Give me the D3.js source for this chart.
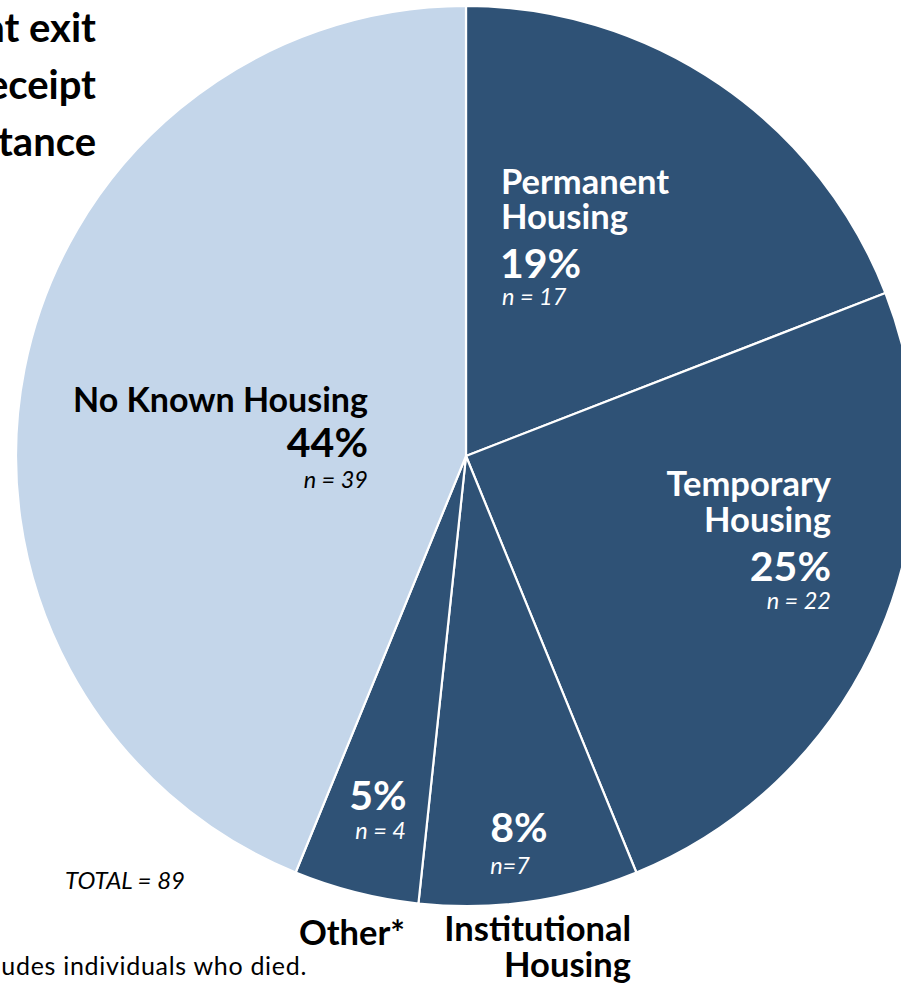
<!DOCTYPE html>
<html>
<head>
<meta charset="utf-8">
<script src="https://cdn.jsdelivr.net/npm/d3@7/dist/d3.min.js"></script>
<style>
  html, body { margin: 0; padding: 0; background: #fff; }
  svg { display: block; }
  text { font-family: Lato, "Open Sans", sans-serif; }
</style>
</head>
<body>
<div id="chart"></div>
<script>
// ---- data ----
const categories = ["Permanent Housing", "Temporary Housing", "Institutional Housing", "Other*", "No Known Housing"];
const counts = [17, 22, 7, 4, 39];
const percents = ["19%", "25%", "8%", "5%", "44%"];
const nLabels = ["n = 17", "n = 22", "n=7", "n = 4", "n = 39"];
const totalLabel = "TOTAL = 89";
const titleLines = ["Housing status at exit", "following receipt", "of assistance"];
const footnote = "*Other includes individuals who died.";

// ---- layout ----
const W = 901, H = 986;
const cx = 466, cy = 456, R = 450;
const dark = "#2F5276", light = "#C4D6EA";
const colors = [dark, dark, dark, dark, light];

const svg = d3.select("#chart").append("svg").attr("width", W).attr("height", H);

const pie = d3.pie().sort(null).value(d => d)(counts);
const arc = d3.arc().innerRadius(0).outerRadius(R);

const g = svg.append("g").attr("transform", `translate(${cx},${cy})`);
g.selectAll("path").data(pie).join("path")
  .attr("d", arc)
  .attr("fill", (d, i) => colors[i])
  .attr("stroke", "#fff")
  .attr("stroke-width", 2.2)
  .attr("stroke-linejoin", "round");

// title (clipped at left edge as in the reference)
svg.append("g").selectAll("text").data(titleLines).join("text")
  .attr("x", 96).attr("y", (d, i) => 42 + i * 57)
  .attr("text-anchor", "end")
  .attr("font-weight", 700).attr("font-size", 40).attr("fill", "#000")
  .text(d => d);

// label helper
function lines(specs) {
  specs.forEach(s => {
    svg.append("text")
      .attr("x", s.x).attr("y", s.y)
      .attr("text-anchor", s.anchor || "start")
      .attr("font-weight", s.w || 700)
      .attr("font-style", s.it ? "italic" : "normal")
      .attr("font-size", s.fs)
      .attr("letter-spacing", s.ls || 0)
      .attr("fill", s.fill)
      .text(s.t);
  });
}

const LF = 34.5, PF = 41, NF = 23.5;

// Permanent Housing
lines([
  {t: "Permanent", x: 501, y: 194, fs: LF, fill: "#fff"},
  {t: "Housing", x: 501, y: 229, fs: LF, fill: "#fff"},
  {t: percents[0], x: 500, y: 278, fs: PF, fill: "#fff"},
  {t: nLabels[0], x: 502, y: 305, fs: NF, it: true, w: 400, fill: "#fff"}
]);
// Temporary Housing
lines([
  {t: "Temporary", x: 831, y: 496, fs: LF, fill: "#fff", anchor: "end"},
  {t: "Housing", x: 831, y: 532, fs: LF, fill: "#fff", anchor: "end"},
  {t: percents[1], x: 831, y: 581, fs: PF, fill: "#fff", anchor: "end"},
  {t: nLabels[1], x: 831, y: 609, fs: NF, it: true, w: 400, fill: "#fff", anchor: "end"}
]);
// No Known Housing
lines([
  {t: "No Known Housing", x: 368, y: 412, fs: 34, fill: "#000", anchor: "end"},
  {t: percents[4], x: 368, y: 457, fs: PF, fill: "#000", anchor: "end"},
  {t: nLabels[4], x: 368, y: 488, fs: NF, it: true, w: 400, fill: "#000", anchor: "end"}
]);
// Other
lines([
  {t: percents[3], x: 378, y: 810, fs: PF, fill: "#fff", anchor: "middle"},
  {t: nLabels[3], x: 406, y: 839, fs: NF, it: true, w: 400, fill: "#fff", anchor: "end"},
  {t: "Other*", x: 405, y: 945, fs: LF, fill: "#000", anchor: "end"}
]);
// Institutional
lines([
  {t: percents[2], x: 519, y: 842, fs: PF, fill: "#fff", anchor: "middle"},
  {t: nLabels[2], x: 510, y: 874, fs: NF, it: true, w: 400, fill: "#fff", anchor: "middle"},
  {t: "Institutional", x: 631, y: 941, fs: LF, fill: "#000", anchor: "end"},
  {t: "Housing", x: 631, y: 977, fs: LF, fill: "#000", anchor: "end"}
]);

// total & footnote
lines([
  {t: totalLabel, x: 65, y: 889, fs: 24, it: true, w: 400, fill: "#000"},
  {t: footnote, x: 307, y: 975, fs: 25, ls: 0.7, w: 400, fill: "#000", anchor: "end"}
]);
</script>
</body>
</html>
